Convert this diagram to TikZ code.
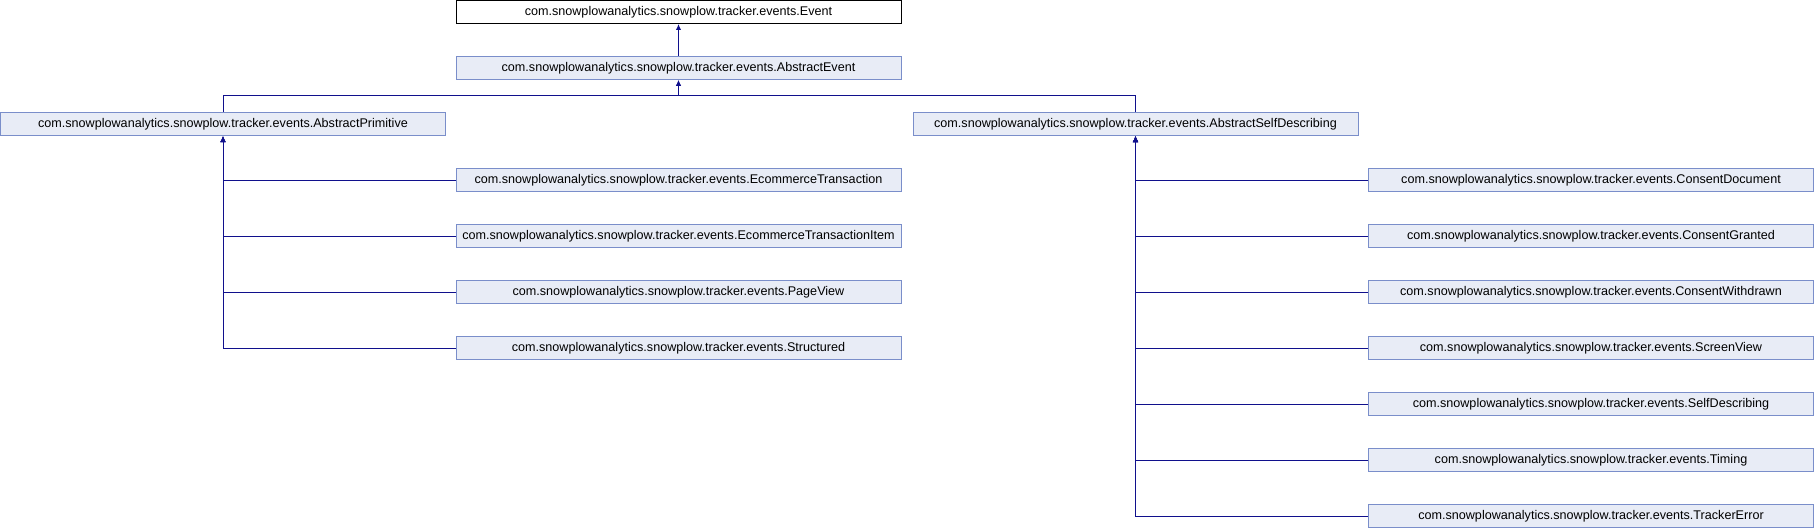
\documentclass[tikz,border=0pt]{standalone}
\usepackage{fontspec}
\setmainfont{Liberation Sans}
\usetikzlibrary{arrows.meta}
\definecolor{edgecol}{RGB}{16,16,140}
\definecolor{boxborder}{RGB}{122,142,202}
\definecolor{boxfill}{RGB}{232,236,246}
\begin{document}
\begin{tikzpicture}[x=0.75pt,y=-0.75pt,
  cls/.style={draw=boxborder,fill=boxfill,line width=0.75pt,minimum width=333.75pt,minimum height=17.25pt,inner sep=0pt,font=\fontsize{9.45}{11}\selectfont},
  topcls/.style={cls,draw=black,fill=white},
  edge/.style={draw=edgecol,line width=0.75pt,-{Latex[length=4.5pt,width=4pt]}}]
\useasboundingbox (0,0) rectangle (1814,528);
\node[topcls] (ev) at (678.5,12) {com.snowplowanalytics.snowplow.tracker.events.Event};
\node[cls] (ae) at (678.5,68) {com.snowplowanalytics.snowplow.tracker.events.AbstractEvent};
\node[cls] (ap) at (223,124) {com.snowplowanalytics.snowplow.tracker.events.AbstractPrimitive};
\node[cls] (asd) at (1135.5,124) {com.snowplowanalytics.snowplow.tracker.events.AbstractSelfDescribing};
\node[cls] (et) at (678.5,180) {com.snowplowanalytics.snowplow.tracker.events.EcommerceTransaction};
\node[cls] (eti) at (678.5,236) {com.snowplowanalytics.snowplow.tracker.events.EcommerceTransactionItem};
\node[cls] (pv) at (678.5,292) {com.snowplowanalytics.snowplow.tracker.events.PageView};
\node[cls] (st) at (678.5,348) {com.snowplowanalytics.snowplow.tracker.events.Structured};
\node[cls] (cd) at (1591,180) {com.snowplowanalytics.snowplow.tracker.events.ConsentDocument};
\node[cls] (cg) at (1591,236) {com.snowplowanalytics.snowplow.tracker.events.ConsentGranted};
\node[cls] (cw) at (1591,292) {com.snowplowanalytics.snowplow.tracker.events.ConsentWithdrawn};
\node[cls] (sv) at (1591,348) {com.snowplowanalytics.snowplow.tracker.events.ScreenView};
\node[cls] (sd) at (1591,404) {com.snowplowanalytics.snowplow.tracker.events.SelfDescribing};
\node[cls] (ti) at (1591,460) {com.snowplowanalytics.snowplow.tracker.events.Timing};
\node[cls] (te) at (1591,516) {com.snowplowanalytics.snowplow.tracker.events.TrackerError};
\coordinate (bus) at (678.5,96);
\draw[edge] (ae.north) -- (ev.south);
\draw[edge] (ap.north) |- (bus) -- (ae.south);
\draw[edge] (asd.north) |- (bus) -- (ae.south);
\foreach \c in {et,eti,pv,st} \draw[edge] (\c.west) -| (ap.south);
\foreach \c in {cd,cg,cw,sv,sd,ti,te} \draw[edge] (\c.west) -| (asd.south);
\end{tikzpicture}
\end{document}
